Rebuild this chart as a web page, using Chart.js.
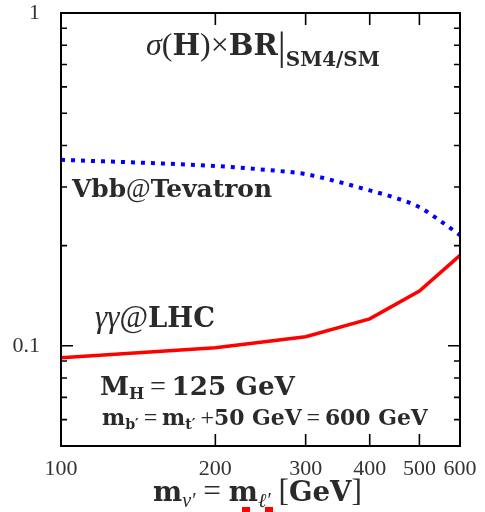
<!DOCTYPE html>
<html>
<head>
<meta charset="utf-8">
<script src="https://cdn.jsdelivr.net/npm/chart.js@4/dist/chart.umd.min.js"></script>
<style>
  body { margin: 0; background: #fff; }
  #wrap { position: relative; width: 485px; height: 512px; }
  .mark { position: absolute; background: #ff0000; width: 8px; height: 5px; top: 507px; }
</style>
</head>
<body>
<div id="wrap">
  <canvas id="myChart" width="485" height="512"></canvas>
  <div class="mark" style="left:242px"></div>
  <div class="mark" style="left:265px"></div>
</div>
<script>
'use strict';

// data
const massLHC = [100, 200, 300, 400, 500, 600];
const ratioLHC = [0.092, 0.0986, 0.1065, 0.1205, 0.146, 0.187];

const massTev = [100, 150, 200, 250, 300, 350, 400, 450, 500, 550, 600];
const ratioTev = [0.362, 0.354, 0.347, 0.338, 0.328, 0.310, 0.293, 0.278, 0.261, 0.237, 0.215];

// tick labels
const xTicks = [100, 200, 300, 400, 500, 600];
const yLabels = [0.1, 1];
const yMinor = [0.06, 0.07, 0.08, 0.09, 0.2, 0.3, 0.4, 0.5, 0.6, 0.7, 0.8, 0.9];

const TEXT = '#2a2a2a';
const BOLD = 'DejaVu Serif';
const REG = 'Liberation Serif';

// draws a row of text pieces, scaled so the row fits the given width
function drawRuns(ctx, x, base, width, runs) {
  const fontOf = (r, k) => (r.i ? 'italic ' : '') + (r.b ? 'bold ' : '') +
    (r.size * k).toFixed(2) + 'px "' + (r.b ? BOLD : REG) + '"';
  let w = 0;
  runs.forEach(r => { ctx.font = fontOf(r, 1); w += ctx.measureText(r.t).width; });
  const k = width / w;
  let cx = x;
  ctx.fillStyle = TEXT;
  ctx.textBaseline = 'alphabetic';
  ctx.textAlign = 'left';
  runs.forEach(r => {
    ctx.font = fontOf(r, k);
    ctx.fillText(r.t, cx, base + (r.dy || 0) * k);
    cx += ctx.measureText(r.t).width;
  });
}

const framePlugin = {
  id: 'frame',
  afterDatasetsDraw(chart) {
    const ctx = chart.ctx;
    const a = chart.chartArea;
    const xs = chart.scales.x;
    const ys = chart.scales.y;
    ctx.save();
    ctx.strokeStyle = '#000';
    ctx.lineWidth = 2;
    ctx.strokeRect(a.left, a.top, a.right - a.left, a.bottom - a.top);
    ctx.lineWidth = 1.6;
    ctx.beginPath();
    for (let i = 1; i < xTicks.length - 1; i++) {
      const px = xs.getPixelForValue(xTicks[i]);
      ctx.moveTo(px, a.bottom); ctx.lineTo(px, a.bottom - 12);
      ctx.moveTo(px, a.top); ctx.lineTo(px, a.top + 12);
    }
    yLabels.forEach(v => {
      const py = ys.getPixelForValue(v);
      ctx.moveTo(a.left, py); ctx.lineTo(a.left + 12, py);
      ctx.moveTo(a.right, py); ctx.lineTo(a.right - 12, py);
    });
    yMinor.forEach(v => {
      const py = ys.getPixelForValue(v);
      ctx.moveTo(a.left, py); ctx.lineTo(a.left + 6, py);
      ctx.moveTo(a.right, py); ctx.lineTo(a.right - 6, py);
    });
    ctx.stroke();
    ctx.restore();
  },
  afterDraw(chart) {
    const ctx = chart.ctx;
    ctx.save();
    drawRuns(ctx, 146, 55, 234, [
      { t: 'σ', i: true, size: 24 },
      { t: '(', size: 24 },
      { t: 'H', b: true, size: 22 },
      { t: ')', size: 24 },
      { t: '×', size: 24 },
      { t: 'BR', b: true, size: 22 },
      { t: '|', size: 30, dy: 3 },
      { t: 'SM4/SM', b: true, size: 15, dy: 8 }
    ]);
    drawRuns(ctx, 72, 197, 200, [
      { t: 'Vbb', b: true, size: 26 },
      { t: '@', size: 28 },
      { t: 'Tevatron', b: true, size: 26 }
    ]);
    drawRuns(ctx, 95, 327, 120, [
      { t: 'γγ', i: true, size: 26 },
      { t: '@', size: 26 },
      { t: 'LHC', b: true, size: 23 }
    ]);
    drawRuns(ctx, 100, 395, 195, [
      { t: 'M', b: true, size: 26 },
      { t: 'H', b: true, size: 16, dy: 4 },
      { t: '\u2009=\u2009', size: 28 },
      { t: '125 GeV', b: true, size: 26 }
    ]);
    drawRuns(ctx, 102, 425, 326, [
      { t: 'm', b: true, size: 20 },
      { t: 'b′', b: true, size: 13, dy: 4 },
      { t: '\u2009=\u2009', size: 22 },
      { t: 'm', b: true, size: 20 },
      { t: 't′', b: true, size: 13, dy: 4 },
      { t: '\u2009+', size: 22 },
      { t: '50 GeV', b: true, size: 20 },
      { t: '\u2009=\u2009', size: 22 },
      { t: '600 GeV', b: true, size: 20 }
    ]);
    drawRuns(ctx, 153, 501, 209, [
      { t: 'm', b: true, size: 22 },
      { t: 'ν′', i: true, size: 16, dy: 5 },
      { t: ' = ', size: 25 },
      { t: 'm', b: true, size: 22 },
      { t: 'ℓ′', i: true, size: 16, dy: 5 },
      { t: ' [', size: 25 },
      { t: 'GeV', b: true, size: 22 },
      { t: ']', size: 25 }
    ]);
    ctx.restore();
  }
};

const ctx = document.getElementById('myChart');

let config = {
  type: 'line',
  data: {
    datasets: [
      {
        label: 'γγ@LHC',
        data: massLHC.map((m, i) => ({ x: m, y: ratioLHC[i] })),
        borderColor: '#ff0000',
        borderWidth: 3.5,
        pointRadius: 0,
        tension: 0
      },
      {
        label: 'Vbb@Tevatron',
        data: massTev.map((m, i) => ({ x: m, y: ratioTev[i] })),
        borderColor: '#0000ff',
        borderWidth: 4,
        borderDash: [4, 6],
        borderCapStyle: 'butt',
        pointRadius: 0,
        cubicInterpolationMode: 'monotone'
      }
    ]
  },
  options: {
    responsive: false,
    animation: false,
    layout: { padding: { top: 13, right: 25, left: 0, bottom: 0 } },
    plugins: { legend: { display: false }, tooltip: { enabled: false } },
    scales: {
      x: {
        type: 'logarithmic',
        min: 100,
        max: 600,
        grid: { display: false },
        border: { display: false },
        afterBuildTicks: s => { s.ticks = xTicks.map(v => ({ value: v })); },
        afterFit: s => { s.height = 66; s.paddingLeft = 0; s.paddingRight = 0; },
        ticks: {
          autoSkip: false,
          maxRotation: 0,
          padding: 2,
          color: '#333',
          font: { family: REG, size: 22 },
          callback: v => String(v)
        }
      },
      y: {
        type: 'logarithmic',
        min: 0.05,
        max: 1,
        grid: { display: false },
        border: { display: false },
        afterBuildTicks: s => { s.ticks = yLabels.map(v => ({ value: v })); },
        afterFit: s => { s.width = 61; s.paddingTop = 0; s.paddingBottom = 0; },
        ticks: {
          autoSkip: false,
          padding: 13,
          color: '#333',
          font: { family: REG, size: 22 },
          callback: v => String(v)
        }
      }
    }
  },
  plugins: [framePlugin]
};

const chart = new Chart(ctx, config);
</script>
</body>
</html>
